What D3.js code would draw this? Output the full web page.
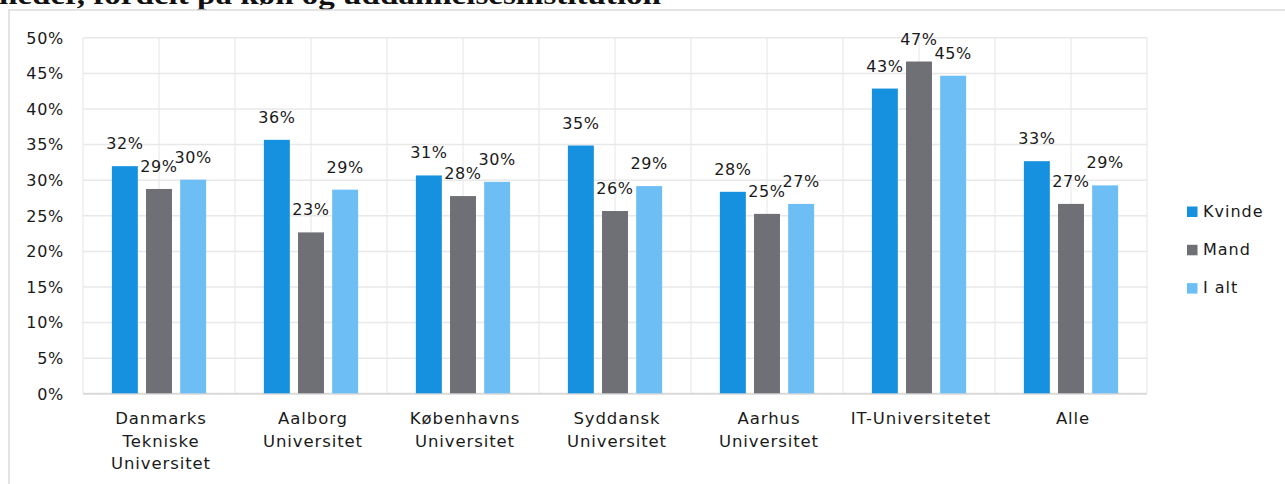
<!DOCTYPE html>
<html>
<head>
<meta charset="utf-8">
<script src="https://cdn.jsdelivr.net/npm/d3@7"></script>
<style>
  body { margin: 0; background: #fff; }
  svg { display: block; }
  text { font-family: "DejaVu Sans", sans-serif; fill: #1a1a1a; }
  .tick text { font-size: 16px; letter-spacing: 0.7px; }
</style>
</head>
<body>
<svg id="chart" width="1285" height="484"></svg>
<script>
// data
const categories = [
    ["Danmarks", "Tekniske", "Universitet"],
    ["Aalborg", "Universitet"],
    ["Københavns", "Universitet"],
    ["Syddansk", "Universitet"],
    ["Aarhus", "Universitet"],
    ["IT-Universitetet"],
    ["Alle"]
];
const seriesNames = ["Kvinde", "Mand", "I alt"];
const kvinde = [31.9, 35.6, 30.6, 34.8, 28.3, 42.8, 32.6];
const mand = [28.7, 22.6, 27.7, 25.6, 25.2, 46.6, 26.6];
const iAlt = [30.0, 28.6, 29.7, 29.1, 26.6, 44.6, 29.2];
const yTicks = [0, 5, 10, 15, 20, 25, 30, 35, 40, 45, 50];
const titleText = "heder, fordelt på køn og uddannelsesinstitution";

const colors = ["#1591e0", "#6e7075", "#6cbef5"];
const seriesValues = [kvinde, mand, iAlt];
const catKeys = categories.map(c => c.join(" "));

const svg = d3.select("#chart");

// frame + cut-off title
svg.append("text")
    .attr("x", -1)
    .attr("y", 4)
    .attr("textLength", 662)
    .attr("lengthAdjust", "spacingAndGlyphs")
    .style("font-family", "'Liberation Serif', serif")
    .style("font-weight", "bold")
    .style("font-size", "28px")
    .style("fill", "#111")
    .text(titleText);

svg.append("path")
    .attr("d", "M9,484V10H1285")
    .attr("fill", "none")
    .attr("stroke", "#dcdcdc")
    .attr("stroke-width", 1.5);

const x0 = 83, x1 = 1147, yTop = 37.3, yBottom = 393.3;

const xScale = d3.scaleBand()
    .domain(catKeys)
    .range([x0, x1])
    .padding(0);

const bw = xScale.bandwidth();

const xInner = d3.scaleBand()
    .domain(seriesNames)
    .range([bw * 0.19, bw * 0.81])
    .paddingInner(0.24);

const yScale = d3.scaleLinear()
    .domain([0, 50])
    .range([yBottom, yTop]);

// vertical gridlines (at every half category)
const vLines = d3.range(0, catKeys.length * 2 + 1).map(i => x0 + i * bw / 2);
svg.append("g")
    .selectAll("line")
    .data(vLines)
    .join("line")
    .attr("x1", d => d).attr("x2", d => d)
    .attr("y1", yTop).attr("y2", yBottom)
    .attr("stroke", "#eeeeee")
    .attr("stroke-width", 1.5);

// horizontal gridlines + tick labels
const yAxis = svg.append("g")
    .attr("transform", `translate(${x0},0)`)
    .call(d3.axisLeft(yScale)
        .tickValues(yTicks)
        .tickSize(-(x1 - x0))
        .tickPadding(19)
        .tickFormat(d => d + "%"));

yAxis.select(".domain").remove();
yAxis.selectAll(".tick line")
    .attr("stroke", d => d === 0 ? "#d9d9d9" : "#e8e8e8")
    .attr("stroke-width", d => d === 0 ? 2 : 1.5);
yAxis.selectAll(".tick text")
    .attr("fill", "#1a1a1a")
    .attr("dy", "0.36em");

// bars
const groups = svg.append("g")
    .selectAll("g")
    .data(catKeys)
    .join("g")
    .attr("transform", d => `translate(${xScale(d)},0)`);

const barData = (d, i) => seriesNames.map((s, j) => ({ name: s, value: seriesValues[j][i], color: colors[j] }));

groups.selectAll("rect")
    .data(barData)
    .join("rect")
    .attr("x", d => xInner(d.name))
    .attr("width", xInner.bandwidth())
    .attr("y", d => yScale(d.value))
    .attr("height", d => yBottom - yScale(d.value))
    .attr("fill", d => d.color);

groups.selectAll("text.lbl")
    .data(barData)
    .join("text")
    .attr("class", "lbl")
    .attr("x", d => xInner(d.name) + xInner.bandwidth() / 2)
    .attr("y", d => yScale(d.value) - 17)
    .attr("text-anchor", "middle")
    .style("font-size", "16px")
    .style("letter-spacing", "0.6px")
    .text(d => Math.round(d.value) + "%");

// category labels
svg.append("g")
    .selectAll("text")
    .data(categories)
    .join("text")
    .attr("x", (d, i) => xScale(catKeys[i]) + bw / 2 + 2)
    .attr("y", 424)
    .attr("text-anchor", "middle")
    .style("font-size", "16.5px")
    .style("letter-spacing", "0.9px")
    .selectAll("tspan")
    .data(d => d)
    .join("tspan")
    .attr("x", function () { return this.parentNode.getAttribute("x"); })
    .attr("dy", (d, i) => i === 0 ? 0 : 22.5)
    .text(d => d);

// legend
const legend = svg.append("g")
    .attr("transform", "translate(1187,206.5)");

const legendItems = legend.selectAll("g")
    .data(seriesNames)
    .join("g")
    .attr("transform", (d, i) => `translate(0,${i * 38.3})`);

legendItems.append("rect")
    .attr("width", 10.5)
    .attr("height", 10.5)
    .attr("fill", (d, i) => colors[i]);

legendItems.append("text")
    .attr("x", 16)
    .attr("y", 10.3)
    .style("font-size", "16px")
    .style("letter-spacing", "1px")
    .text(d => d);
</script>
</body>
</html>
